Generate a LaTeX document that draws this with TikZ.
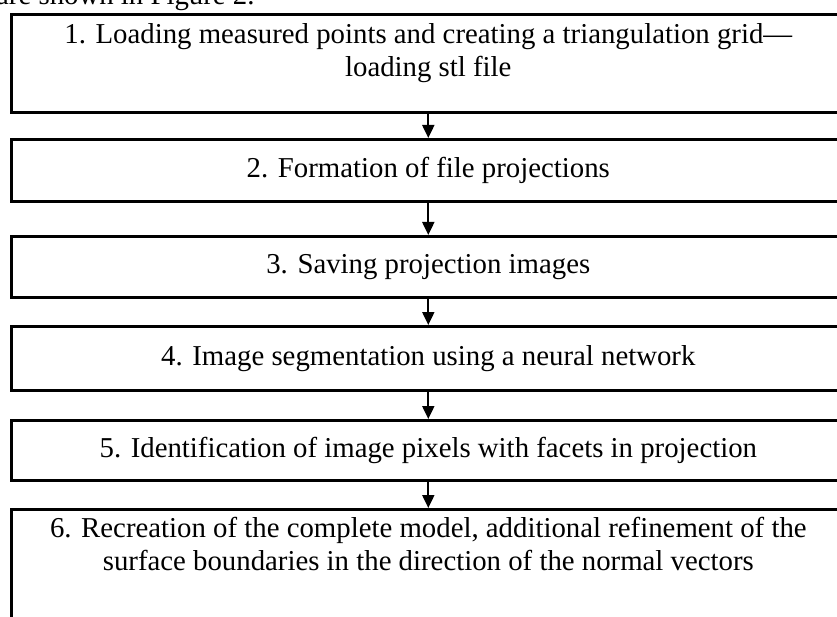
\documentclass[tikz,border=0pt]{standalone}
\usepackage{fontspec}
\setmainfont{Liberation Serif}
\usetikzlibrary{arrows.meta}

\begin{document}
\begin{tikzpicture}[x=1pt,y=-1pt,
		stage/.style={draw,line width=2.6pt,anchor=north west,minimum width=834pt,inner sep=0pt,align=center,font=\fontsize{28.8}{33}\selectfont},
		flow/.style={-{Triangle[length=13pt,width=12pt]},line width=2pt}]
		\useasboundingbox (0,0) rectangle (837,617);
		\clip (0,0) rectangle (837,617);
		\node[anchor=base west,inner sep=0pt,font=\fontsize{28.8}{33}\selectfont] (intro) at (-4,5) {are shown in Figure 2.};
		\node[stage,minimum height=98pt,text depth=26pt] (s1) at (10,13) {1. Loading measured points and creating a triangulation grid---\\loading stl file};
		\node[stage,minimum height=62pt] (s2) at (10,138) {2. Formation of file projections};
		\node[stage,minimum height=61pt] (s3) at (10,235) {3. Saving projection images};
		\node[stage,minimum height=64pt] (s4) at (10,325) {4. Image segmentation using a neural network};
		\node[stage,minimum height=60pt] (s5) at (10,419) {5. Identification of image pixels with facets in projection};
		\node[stage,minimum height=130pt,text depth=61pt] (s6) at (10,508) {6. Recreation of the complete model, additional refinement of the\\surface boundaries in the direction of the normal vectors};
		\draw[flow](s1)--(s2);
		\draw[flow](s2)--(s3);
		\draw[flow](s3)--(s4);
		\draw[flow](s4)--(s5);
		\draw[flow](s5)--(s6);
	\end{tikzpicture}
\end{document}
